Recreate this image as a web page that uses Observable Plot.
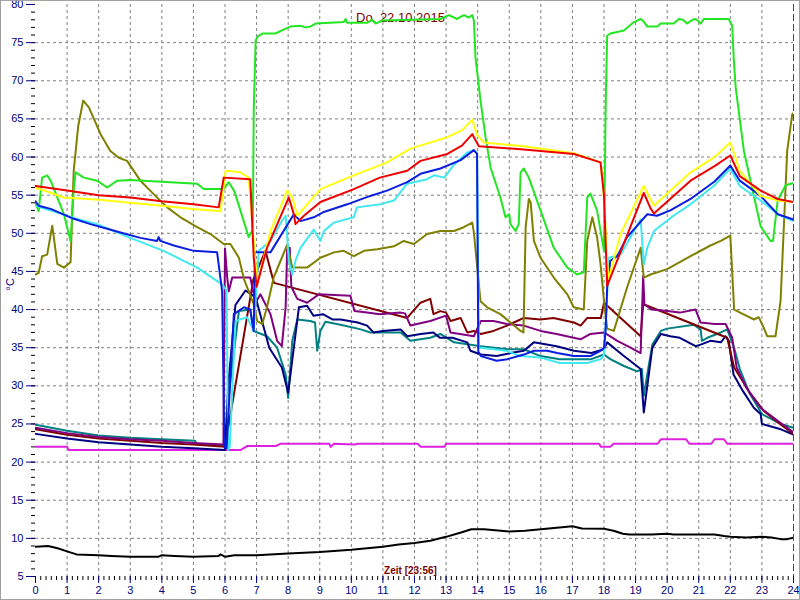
<!DOCTYPE html>
<html>
<head>
<meta charset="utf-8">
<script src="https://cdn.jsdelivr.net/npm/d3@7"></script>
<script src="https://cdn.jsdelivr.net/npm/@observablehq/plot@0.6"></script>
<style>
  html, body { margin: 0; padding: 0; background: #fff; }
  #chart svg { display: block; outline: 1px solid #a0a0a0; outline-offset: -1px; }
</style>
</head>
<body>
<div id="chart"></div>
<script>
// ---- texts ----
const titleText = "Do. 22.10.2015";
const xLabelText = "Zeit [23:56]";
const yLabelText = "°C";
const nowHour = [24];

// ---- tick values ----
const xMajorTicks = d3.range(0, 25, 1);
const xMinorTicks = d3.range(0, 24 * 6 + 1).map(i => i / 6);
const yMajorTicks = d3.range(5, 81, 5);
const yMinorTicks = d3.range(5, 81, 1);
const xGridTicks = d3.range(1, 24, 1);
const yGridTicks = d3.range(10, 80, 5);

// ---- series: [hour, °C] ----
const outside = [[0,8.9],[0.4,9.0],[0.7,8.7],[1.0,8.3],[1.3,7.9],[2,7.8],[2.4,7.7],[3,7.6],[3.9,7.6],[4.0,7.8],[4.4,7.7],[5,7.6],[5.8,7.7],[5.85,7.9],[6.0,7.6],[6.3,7.8],[7,7.8],[8,8.0],[9,8.2],[10,8.5],[11,8.9],[11.5,9.2],[12,9.4],[12.5,9.7],[13,10.2],[13.5,10.8],[13.8,11.2],[14.2,11.2],[15,10.9],[15.5,11.0],[16,11.2],[16.5,11.4],[17,11.6],[17.3,11.3],[18,11.25],[18.3,11.0],[18.6,10.6],[18.8,10.5],[19.5,10.5],[20,10.6],[20.2,10.5],[21.5,10.5],[21.8,10.3],[22,10.2],[22.5,10.1],[23,10.2],[23.3,10.1],[23.6,9.9],[23.8,9.9],[24,10.1]];

const magentaS = [[0,22.0],[1.0,22.0],[1.05,21.6],[6.5,21.6],[6.7,22.1],[7.6,22.1],[7.75,22.4],[9.3,22.4],[9.35,22.0],[9.45,22.4],[10.1,22.3],[10.2,22.4],[12.1,22.4],[12.2,22.0],[12.95,22.0],[13.0,22.4],[17.85,22.4],[17.9,22.0],[18.2,22.0],[18.3,22.4],[19.7,22.4],[19.8,23.0],[20.6,23.0],[20.7,22.4],[21.4,22.4],[21.5,23.0],[21.8,23.0],[21.9,22.4],[24,22.4]];

const tealS = [[0,24.9],[1,24.1],[2,23.5],[3,23.2],[4,23.0],[5.05,22.8],[5.1,22.4],[6,22.1],[6.15,30],[6.44,39.8],[6.8,40.0],[6.9,37.2],[7.33,36.5],[7.65,35.0],[7.92,31.5],[8.0,28.4],[8.13,35.9],[8.29,38.7],[8.7,38.5],[8.85,38.3],[8.92,34.6],[9.02,37.2],[9.18,38.4],[9.66,38.0],[10.3,37.4],[10.6,37.0],[11.56,37.0],[11.87,35.9],[12.5,36.3],[12.82,36.8],[13.25,35.7],[14.1,35.2],[14.94,34.8],[15.46,34.8],[15.99,33.9],[16.6,33.5],[17.6,33.5],[18.0,34.1],[18.2,33.5],[18.63,32.6],[19.05,31.9],[19.2,32.2],[19.26,28.7],[19.37,31.5],[19.53,35.4],[19.8,37.2],[20.0,37.5],[20.85,38.0],[21.06,37.4],[21.1,35.9],[21.27,36.3],[21.7,37.0],[21.9,37.4],[22.12,35.0],[22.3,32.2],[22.6,29.1],[23.0,26.3],[23.59,25.0],[24,24.5]];

const navyS = [[0,23.7],[1,23.1],[2,22.6],[3,22.3],[4,22.0],[5,21.8],[6,21.6],[6.1,30],[6.33,40.6],[6.65,42.5],[6.97,41.6],[7.4,35],[7.8,32.4],[8.0,29.1],[8.34,40.3],[8.6,40.5],[8.8,39.2],[9.1,39.4],[9.4,38.7],[9.66,38.7],[10.2,38.3],[10.5,37.9],[10.7,37.0],[11.0,37.2],[11.56,37.4],[11.77,36.5],[12.2,36.8],[12.6,37.0],[12.8,36.3],[13.2,36.3],[13.67,35.7],[13.77,34.6],[14.1,34.1],[14.6,33.9],[15.04,34.3],[15.46,34.6],[15.78,35.7],[16.5,35.2],[17.05,34.6],[17.6,34.3],[18.0,34.8],[18.1,35.7],[18.6,34.0],[19.16,32.2],[19.26,26.5],[19.53,35.0],[19.8,36.8],[20.1,36.5],[20.4,36.3],[20.9,35.2],[21.06,35.4],[21.37,35.9],[21.7,35.7],[21.85,36.5],[21.95,35.9],[22.1,31.5],[22.4,29.3],[22.75,27.1],[22.96,26.3],[23.0,25.0],[23.6,24.3],[24,23.6]];

const maroonS = [[0,24.3],[1,23.6],[2,23.1],[3,22.8],[4,22.5],[5,22.3],[6.0,22.0],[6.9,44],[7.28,47.7],[7.55,43.5],[11.77,38.9],[11.87,39.4],[12.19,40.9],[12.5,41.4],[12.6,39.4],[12.82,39.8],[13.0,39.6],[13.14,38.5],[13.46,38.9],[13.67,37.0],[13.88,37.2],[14.1,36.8],[14.5,37.2],[14.93,37.9],[15.25,38.5],[15.46,38.9],[15.99,38.7],[16.4,38.9],[17.05,38.3],[17.26,37.9],[17.47,38.9],[17.9,38.9],[18.0,40.9],[19.16,36.5],[19.24,40.7],[19.37,40.5],[21.9,36.3],[22.12,32.4],[22.65,28.9],[23.06,26.7],[23.6,24.9],[24,23.7]];

const purpleS = [[0,24.5],[1,23.8],[2,23.3],[3,23.0],[4,22.8],[5,22.5],[5.95,22.3],[6.0,48],[6.07,44.2],[6.12,42.4],[6.23,44.2],[6.8,44.2],[6.97,40.9],[7.12,42.0],[7.44,39.4],[7.65,35.9],[7.8,35.2],[7.92,40.3],[7.97,48.1],[8.05,48.1],[8.1,43],[8.29,41.4],[8.6,40.9],[8.97,42.0],[9.97,41.8],[10.1,39.8],[10.5,39.6],[10.9,39.4],[11.56,39.6],[11.7,39.5],[11.87,37.9],[12.5,38.5],[13.0,39.2],[13.14,37.0],[13.88,36.5],[14.1,38.5],[14.5,38.5],[14.93,38.1],[15.46,37.9],[15.99,37.2],[16.5,36.8],[17.04,36.3],[17.26,36.1],[17.57,36.8],[18.0,37.0],[18.42,35.9],[18.84,35.0],[19.16,34.3],[19.24,44.4],[19.28,40.7],[19.5,40.0],[20.0,39.8],[20.4,39.6],[20.9,40.0],[21.06,38.3],[21.5,38.1],[21.85,38.1],[22.06,36.3],[22.2,32.4],[22.5,29.8],[22.96,27.1],[23.5,25.4],[24,23.9]];

const oliveS = [[0,44.6],[0.1,44.8],[0.21,47.0],[0.37,47.2],[0.53,51.0],[0.69,46.0],[0.9,45.5],[1.11,46.2],[1.21,58.2],[1.35,64],[1.51,67.4],[1.69,66.5],[2.06,63.0],[2.37,60.8],[2.64,59.9],[2.9,59.5],[3.32,56.9],[3.75,55.1],[4.17,53.4],[4.59,52.1],[5.12,50.8],[5.54,49.9],[5.96,48.6],[6.17,48.6],[6.44,46.8],[6.6,44],[6.91,40.7],[7.02,38.5],[7.18,38.1],[7.33,40.3],[7.54,44.2],[7.76,46.4],[7.97,48.5],[8.05,47],[8.13,45.5],[8.6,45.5],[9.02,46.8],[9.45,47.5],[9.76,47.7],[10.08,47.0],[10.4,47.7],[10.82,47.9],[11.35,48.3],[11.66,49.0],[11.98,48.6],[12.4,49.9],[12.82,50.3],[13.25,50.3],[13.56,50.8],[13.83,51.4],[13.88,50.1],[14.09,41.1],[14.3,40.3],[14.72,39.4],[15.36,37.2],[15.45,37.0],[15.52,50.8],[15.62,54.5],[15.68,54.0],[15.78,49.0],[15.99,46.8],[16.41,44.2],[16.84,42.0],[17.04,40.3],[17.36,40.0],[17.47,49.0],[17.63,52.1],[17.78,49.5],[17.89,46.0],[18.0,41.1],[18.1,37.5],[18.31,37.2],[18.73,42.9],[19.16,48.1],[19.26,44.2],[19.47,44.6],[20.0,45.3],[20.74,47.0],[21.37,48.4],[21.7,49.0],[22.0,49.7],[22.12,40.0],[22.5,39.2],[22.75,38.7],[22.9,39.0],[23.06,37.6],[23.17,36.5],[23.43,36.5],[23.59,41.1],[23.8,60.8],[23.96,65.6],[24,65.8]];

const greenS = [[0,54],[0.1,52.9],[0.21,57.3],[0.37,57.6],[0.48,56.9],[0.9,52.5],[1.11,49.0],[1.21,55.6],[1.27,58.0],[1.53,57.3],[1.95,56.9],[2.27,56.0],[2.59,56.9],[3.0,57.0],[5.12,56.5],[5.33,55.8],[5.96,55.8],[6.12,56.7],[6.3,55.5],[6.75,49.5],[6.88,50.5],[6.91,66],[6.97,75.3],[7.06,75.9],[7.2,76.2],[7.6,76.2],[7.8,76.6],[8.07,77.1],[8.39,77.2],[8.55,77.0],[8.7,77.1],[8.87,77.5],[9.76,77.7],[9.82,78.1],[9.87,77.6],[10.5,77.6],[10.65,78.0],[10.77,77.5],[10.98,77.9],[12.82,78.1],[13.09,78.6],[13.35,78.1],[13.56,78.6],[13.72,78.3],[13.83,78.6],[13.88,77.9],[13.93,73.1],[14.09,67.4],[14.25,62.6],[14.41,58.6],[14.72,54.7],[14.88,52.1],[15.0,52.5],[15.04,51.2],[15.2,50.3],[15.3,51.2],[15.36,58.0],[15.46,58.5],[15.62,57.3],[15.99,53.0],[16.41,48.1],[16.84,45.5],[17.15,44.6],[17.36,44.9],[17.47,54.7],[17.57,55.2],[17.78,53.0],[18.0,47.7],[18.05,66.1],[18.1,75.9],[18.2,76.2],[18.63,76.6],[18.95,77.7],[19.16,78.1],[19.25,77.8],[19.37,77.1],[19.69,77.1],[19.79,77.5],[20.21,77.5],[20.37,78.1],[20.5,78.0],[20.63,77.5],[20.8,78.0],[20.9,78.1],[21.0,77.8],[21.06,77.5],[21.16,78.1],[21.95,78.1],[22.06,77.2],[22.11,72.7],[22.17,69.1],[22.43,60.8],[22.96,50.9],[23.27,49.0],[23.35,49.0],[23.5,54.3],[23.75,56.3],[24,56.6]];

const cyanS = [[0,53.6],[0.48,53.0],[1.21,52.0],[1.95,51.2],[3.0,49.4],[4.06,47.7],[5.12,45.5],[5.91,43.3],[6.05,42.5],[6.1,21.6],[6.15,22],[6.33,38.5],[6.7,39.0],[6.91,37.2],[7.07,47.7],[7.44,49.0],[7.8,51.6],[7.92,52.3],[7.97,49.5],[8.02,46.4],[8.13,44.6],[8.23,46.4],[8.39,48.1],[8.81,50.5],[9.02,49.0],[9.13,50.3],[9.45,51.4],[10.08,52.1],[10.18,53.4],[10.92,53.8],[11.35,54.3],[11.77,56.5],[12.4,57.1],[12.62,57.6],[12.94,57.3],[13.25,59.0],[13.67,60.6],[13.88,60.9],[13.98,60.5],[14.04,35.0],[14.1,35.0],[14.9,34.6],[15.36,33.9],[15.99,33.7],[16.6,33.0],[17.47,33.0],[17.9,33.5],[18.0,34.1],[18.08,40],[18.15,46.8],[18.52,47.2],[19.16,51.8],[19.26,45.9],[19.37,48.1],[19.58,50.3],[20.2,52.3],[20.74,53.8],[21.5,56.3],[22.0,58.5],[22.3,56.2],[22.96,54.3],[23.5,52.5],[24,51.6]];

const blueS = [[0,54.2],[0.1,53.6],[0.48,53.2],[1.21,51.9],[1.74,51.2],[2.27,50.6],[2.69,50.1],[3.32,49.4],[3.85,49.0],[3.9,49.5],[3.95,49.0],[4.38,48.4],[5.01,47.7],[5.75,47.5],[5.91,42.4],[5.98,22.0],[6.05,21.8],[6.28,39.4],[6.6,40.3],[6.8,40.0],[6.91,37.2],[6.95,47.5],[7.44,47.5],[8.18,52.5],[8.39,51.6],[8.81,52.1],[9.13,52.8],[9.87,53.8],[10.6,54.9],[11.13,55.6],[11.77,56.7],[12.19,57.8],[12.82,58.5],[13.46,59.6],[13.88,60.9],[13.98,60.4],[14.02,34.5],[14.1,33.9],[14.6,33.3],[14.94,33.5],[15.46,34.1],[15.78,34.6],[16.2,34.6],[16.52,34.3],[17.04,33.9],[17.57,33.9],[17.89,34.6],[18.0,35.0],[18.05,37.2],[18.1,42.9],[18.2,46.4],[18.42,47.0],[18.73,49.5],[19.37,52.5],[19.68,52.3],[20.1,53.0],[20.74,54.5],[21.5,56.8],[22.0,58.9],[22.3,56.9],[22.96,54.9],[23.5,52.5],[24,51.8]];

const yellowS = [[0,56.0],[0.9,54.7],[2,54.4],[3,54.0],[4,53.6],[5,53.2],[5.86,52.9],[6.02,58.2],[6.49,58.0],[6.75,57.3],[6.85,52],[7.02,43.3],[7.44,50.3],[7.97,55.6],[8.13,54.7],[8.29,52.3],[9.02,55.8],[10.08,57.6],[11.13,59.3],[11.87,61.1],[13.04,62.6],[13.5,63.5],[13.83,64.9],[13.98,62.9],[14.2,61.9],[15.46,61.4],[17.05,60.5],[17.89,59.3],[18.0,54.7],[18.1,46.4],[18.15,44],[18.52,49.9],[19.26,56.2],[19.58,53.6],[20.74,58.0],[21.5,60.0],[22.0,61.9],[22.3,58.2],[22.96,54.9],[23.5,54.3],[24,54.1]];

const redS = [[0,56.2],[1,55.6],[2,55.0],[3,54.7],[4,54.2],[5,53.8],[5.8,53.4],[5.96,57.3],[6.8,57.1],[6.91,46.8],[7.0,43.0],[7.33,48.1],[8.02,54.7],[8.18,52.5],[8.23,51.2],[8.5,52.3],[9.02,54.1],[10.08,55.8],[10.9,57.3],[11.77,58.2],[12.19,59.5],[13.04,60.4],[13.5,61.5],[13.83,63.0],[14.04,61.4],[15.46,61.0],[17.05,60.4],[17.89,59.3],[18.0,55.0],[18.1,43.1],[19.26,55.3],[19.47,53.3],[19.58,52.6],[20.74,56.9],[21.5,58.8],[22.0,60.2],[22.3,57.5],[22.96,55.6],[23.5,54.5],[24,54.1]];

// drawing order (bottom → top) and colours
const seriesList = [
  {data: outside,  color: "#000000"},
  {data: magentaS, color: "#e020e0"},
  {data: tealS,    color: "#008080"},
  {data: navyS,    color: "#000080"},
  {data: maroonS,  color: "#800000"},
  {data: purpleS,  color: "#800080"},
  {data: oliveS,   color: "#808000"},
  {data: greenS,   color: "#22e622"},
  {data: cyanS,    color: "#40e8f0"},
  {data: blueS,    color: "#0a1ee0"},
  {data: yellowS,  color: "#ffff10"},
  {data: redS,     color: "#ee0000"}
];

const font = "'Liberation Sans', Arial, sans-serif";

const chart = Plot.plot({
  width: 800,
  height: 600,
  marginLeft: 35,
  marginRight: 7,
  marginTop: 4,
  marginBottom: 24,
  style: {background: "#ffffff", fontFamily: font},
  x: {domain: [0, 24]},
  y: {domain: [5, 80]},
  marks: [
    Plot.gridX(xGridTicks, {stroke: "#808080", strokeOpacity: 1, strokeDasharray: "3,3"}),
    Plot.gridY(yGridTicks, {stroke: "#808080", strokeOpacity: 1, strokeDasharray: "3,3"}),
    Plot.axisY({ticks: yMinorTicks, tickSize: 4, text: null, label: null, stroke: "#000000"}),
    Plot.axisY({ticks: yMajorTicks, tickSize: 9, tickPadding: 3, label: null, fontSize: 11, color: "#000080"}),
    Plot.axisX({ticks: xMinorTicks, tickSize: 4, text: null, label: null, stroke: "#000000"}),
    Plot.axisX({ticks: xMajorTicks, tickSize: 7, tickPadding: 3, label: null, fontSize: 11, color: "#000080", tickFormat: d => String(d)}),
    Plot.text([titleText], {frameAnchor: "top", lineAnchor: "middle", dx: -14, dy: 13, fill: "#800000", fontSize: 13}),
    Plot.text([xLabelText], {frameAnchor: "bottom", lineAnchor: "middle", dx: -4, dy: -6, fill: "#800000", fontSize: 10, fontWeight: "bold"}),
    Plot.text([yLabelText], {frameAnchor: "left", dx: -25, rotate: -90, fill: "#000080", fontSize: 11}),
    Plot.ruleX(nowHour, {stroke: "#008000", strokeDasharray: "7,3", strokeWidth: 1}),
    ...seriesList.map(s => Plot.line(s.data, {x: d => d[0], y: d => d[1], stroke: s.color, strokeWidth: 2, strokeLinejoin: "round", clip: true}))
  ]
});
document.getElementById("chart").append(chart);
</script>
</body>
</html>
